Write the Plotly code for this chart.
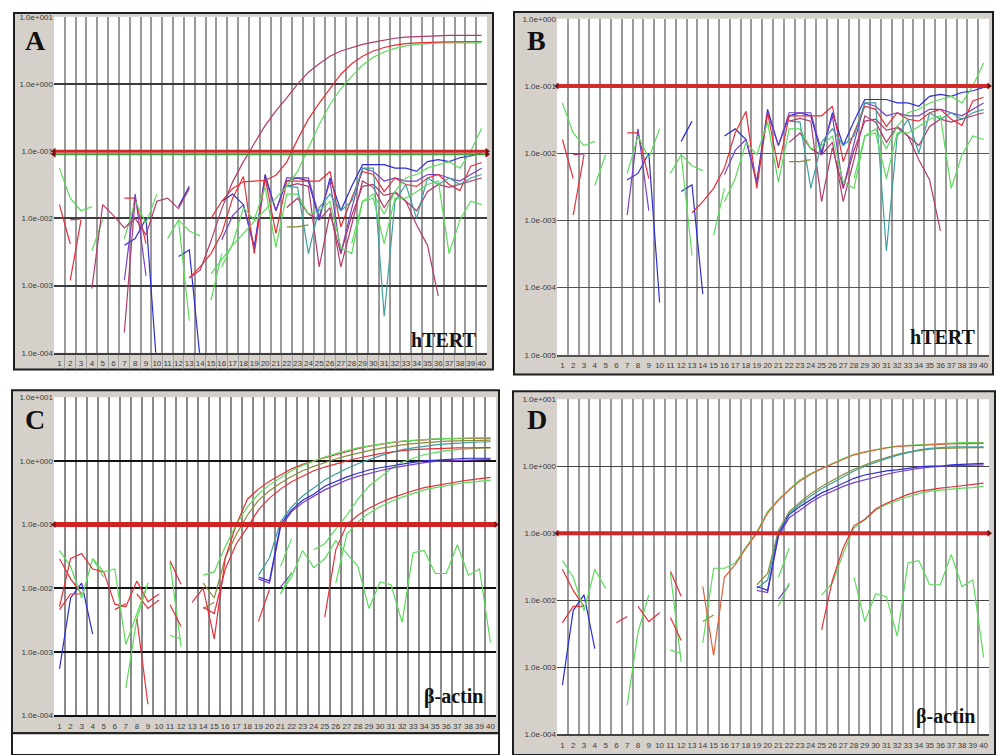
import plotly.graph_objects as go

# ---------------- data ----------------
cycles = list(range(1, 41))
cycle_labels = [str(c) for c in cycles]
grid_positions = [c + 0.5 for c in range(1, 40)]

ticks_A = [10, 1, 0.1, 0.01, 0.001, 0.0001]
ticktext_A = ["1.0e+001", "1.0e+000", "1.0e-001", "1.0e-002", "1.0e-003", "1.0e-004"]
ticks_B = [1, 0.1, 0.01, 0.001, 0.0001, 0.00001]
ticktext_B = ["1.0e+000", "1.0e-001", "1.0e-002", "1.0e-003", "1.0e-004", "1.0e-005"]

threshold_A = 0.1
threshold_A_green = 0.09
threshold_B = 0.1
threshold_C = 0.1
threshold_D = 0.1

# hTERT baseline noise (shared by A and B): (start cycle, values)
ht_blue1 = (16, [0.018, 0.023, 0.016, 0.0038, 0.045, 0.013, 0.036, 0.040, 0.036, 0.0095, 0.040, 0.013, 0.030,
                 0.063, 0.063, 0.063, 0.056, 0.056, 0.050, 0.070, 0.075, 0.070, 0.080, 0.085, 0.095])
ht_blue2 = (16, [0.0048, 0.011, 0.016, 0.0035, 0.040, 0.013, 0.040, 0.040, 0.040, 0.0105, 0.036, 0.003, 0.014,
                 0.056, 0.050, 0.036, 0.040, 0.036, 0.036, 0.045, 0.045, 0.040, 0.036, 0.045, 0.056])
ht_blue_f1 = (7, [0.004, 0.005, 0.010, 0.00006])
ht_blue_f2 = (12, [0.0027, 0.0034, 0.00008])
ht_blue_f3 = (12, [0.015, 0.030])
ht_red1 = (13, [0.0013, 0.0019, 0.003, 0.006, 0.020, 0.042, 0.003, 0.040, 0.006, 0.036, 0.036, 0.036, 0.036, 0.050,
                0.0075, 0.020, 0.050, 0.045, 0.025, 0.040, 0.032, 0.030, 0.040, 0.045, 0.032, 0.026, 0.060, 0.068])
ht_red2 = (22, [0.030, 0.033, 0.030, 0.0019, 0.012, 0.003, 0.011, 0.030, 0.032, 0.022, 0.024, 0.018, 0.008, 0.004, 0.0007])
ht_maroon = (22, [0.0145, 0.020, 0.0116, 0.0095, 0.0145, 0.0019, 0.008, 0.036, 0.029, 0.0145, 0.025, 0.018, 0.013,
                  0.025, 0.032, 0.029, 0.032, 0.036, 0.040])
ht_green1 = (16, [0.0019, 0.0042, 0.0145, 0.0095, 0.029, 0.0037, 0.023, 0.023, 0.0116, 0.013, 0.018, 0.0037, 0.003,
                  0.018, 0.023, 0.0116, 0.025, 0.040, 0.045, 0.056, 0.063, 0.070, 0.056, 0.10, 0.22])
ht_teal = (22, [0.030, 0.029, 0.003, 0.0145, 0.023, 0.013, 0.018, 0.056, 0.056, 0.00035, 0.018, 0.032, 0.010,
                0.040, 0.032, 0.040, 0.032, 0.040, 0.045])
ht_green2 = (28, [0.0042, 0.018, 0.020, 0.0042, 0.020, 0.020, 0.025, 0.032, 0.036, 0.003, 0.0095, 0.018, 0.016])
ht_olive = (22, [0.0075, 0.0075, 0.008])
ht_e_red1 = (1, [0.016, 0.0042])
ht_e_red2 = (2, [0.0012, 0.0095])
ht_e_maroon = (2, [0.0095, 0.0098])
ht_e_green1 = (1, [0.056, 0.020, 0.013, 0.015])
ht_e_green2 = (4, [0.0033, 0.0095])
ht_e_red3 = (7, [0.020, 0.020, 0.0042])
ht_e_purple = (7, [0.0012, 0.023, 0.0014])
ht_e_green3 = (7, [0.005, 0.018, 0.0085, 0.023])
ht_e_green4 = (11, [0.005, 0.0095, 0.0065, 0.0055])
ht_e_green5 = (12, [0.0095, 0.0003])
ht_e_green6 = (15, [0.0006, 0.003])

# hTERT panel A amplification and extra traces
A_amp1 = (13, [0.0013, 0.0017, 0.0046, 0.014, 0.035, 0.07, 0.13, 0.24, 0.40, 0.62, 1.0, 1.5, 2.0, 2.6, 3.1, 3.5,
               3.9, 4.2, 4.5, 4.8, 5.0, 5.1, 5.2, 5.3, 5.3, 5.3, 5.3, 5.3])
A_amp2 = (15, [0.010, 0.018, 0.028, 0.035, 0.036, 0.037, 0.044, 0.069, 0.15, 0.30, 0.52, 0.87, 1.4, 2.0, 2.6, 3.1,
               3.5, 3.8, 4.0, 4.1, 4.2, 4.2, 4.25, 4.25, 4.3, 4.3])
A_amp_green = (15, [0.0015, 0.0025, 0.004, 0.006, 0.009, 0.013, 0.02, 0.03, 0.05, 0.11, 0.25, 0.5, 0.85, 1.3, 1.9,
                    2.5, 3.0, 3.4, 3.7, 3.9, 4.0, 4.1, 4.1, 4.1, 4.1, 4.1])
A_maroon_early = (4, [0.0009, 0.016, 0.011, 0.0072, 0.010, 0.0057, 0.018, 0.020, 0.014, 0.028])
A_pink_frag = (7, [0.0002, 0.02])

# beta-actin baseline noise (shared by C and D)
ba_blue_e = (1, [0.00054, 0.007, 0.012, 0.0019])
ba_red_e1 = (1, [0.029, 0.014, 0.0081])
ba_red_e2 = (1, [0.0046, 0.0081, 0.0081])
ba_green_e1 = (1, [0.039, 0.022, 0.007, 0.029, 0.015])
ba_red_f6 = (6, [0.0046, 0.0057])
ba_green_f7 = (7, [0.00027, 0.0033, 0.012])
ba_red_f8 = (8, [0.0081, 0.0048, 0.0065])
ba_green_f11 = (11, [0.025, 0.0012])
ba_red_f11a = (11, [0.027, 0.0115])
ba_red_f11b = (11, [0.0055, 0.0025])
ba_green_f11b = (11, [0.0018, 0.0016])
ba_olive_f14 = (14, [0.0048, 0.006])
ba_purple_f21 = (21, [0.0104, 0.017])
ba_green_f21 = (21, [0.022, 0.06])
ba_green_f21b = (21, [0.0081, 0.018])
ba_green_late = (28, [0.022, 0.0048, 0.0125, 0.0113, 0.0029, 0.036, 0.039, 0.017, 0.017, 0.048, 0.016, 0.020, 0.0014])

# beta-actin panel C
C_red_e = (1, [0.0051, 0.029, 0.035, 0.02, 0.018, 0.0056, 0.0051, 0.013, 0.0061, 0.0081])
C_red_dive = (8, [0.0033, 0.00015])
C_green_e = (4, [0.029, 0.018, 0.02, 0.0013, 0.004, 0.012])
C_green_mid = (21, [0.0083, 0.015, 0.039, 0.021, 0.029, 0.056, 0.035, 0.022])
C_red_f19 = (19, [0.003, 0.0095])
C_up1 = (14, [0.016, 0.018, 0.045, 0.10, 0.19, 0.30, 0.42, 0.55, 0.70, 0.85, 1.0, 1.15, 1.3, 1.45, 1.6, 1.72, 1.85,
              1.95, 2.05, 2.12, 2.18, 2.22, 2.25, 2.28, 2.3, 2.3, 2.3])
C_up2 = (13, [0.006, 0.010, 0.0016, 0.03, 0.10, 0.25, 0.36, 0.48, 0.60, 0.75, 0.88, 1.0, 1.12, 1.25, 1.4, 1.55, 1.7,
              1.82, 1.93, 2.03, 2.1, 2.17, 2.2, 2.23, 2.25, 2.25, 2.27, 2.28])
C_up3 = (14, [0.005, 0.004, 0.02, 0.05, 0.09, 0.17, 0.26, 0.36, 0.47, 0.58, 0.7, 0.8, 0.9, 1.0, 1.1, 1.2, 1.3, 1.38,
              1.45, 1.5, 1.53, 1.56, 1.58, 1.6, 1.6, 1.6, 1.62])
C_up4 = (14, [0.012, 0.007, 0.03, 0.07, 0.14, 0.24, 0.34, 0.45, 0.57, 0.7, 0.82, 0.95, 1.07, 1.2, 1.33, 1.45, 1.57,
              1.68, 1.78, 1.87, 1.94, 2.0, 2.04, 2.07, 2.1, 2.1, 2.12])
C_blue1 = (19, [0.015, 0.013, 0.10, 0.17, 0.24, 0.30, 0.40, 0.48, 0.56, 0.64, 0.72, 0.78, 0.84, 0.90, 0.95, 1.0,
                1.03, 1.05, 1.07, 1.1, 1.1, 1.1])
C_blue2 = (19, [0.014, 0.012, 0.09, 0.16, 0.22, 0.28, 0.35, 0.42, 0.50, 0.57, 0.64, 0.70, 0.77, 0.83, 0.89, 0.94,
                0.98, 1.0, 1.02, 1.04, 1.06, 1.06])
C_teal = (19, [0.016, 0.03, 0.11, 0.19, 0.28, 0.38, 0.50, 0.62, 0.76, 0.90, 1.05, 1.2, 1.35, 1.5, 1.6, 1.7, 1.78,
               1.85, 1.9, 1.95, 1.98, 2.0])
C_late_red = (25, [0.0035, 0.04, 0.10, 0.14, 0.18, 0.22, 0.26, 0.30, 0.34, 0.38, 0.41, 0.44, 0.47, 0.50, 0.53, 0.55])
C_late_green = (26, [0.012, 0.07, 0.11, 0.15, 0.19, 0.23, 0.27, 0.31, 0.35, 0.38, 0.41, 0.44, 0.46, 0.48, 0.50])
C_late_lightgreen = (24, [0.04, 0.05, 0.085, 0.14, 0.25, 0.40, 0.55, 0.75, 0.95, 1.1, 1.25, 1.35, 1.45, 1.5, 1.55,
                          1.58, 1.6])

# beta-actin panel D
D_green_e = (14, [0.0023, 0.03, 0.03, 0.036, 0.062, 0.105, 0.21, 0.32, 0.45, 0.63, 0.78, 0.93, 1.1, 1.3, 1.5, 1.64,
                  1.77, 1.9, 2.0, 2.05, 2.1, 2.15, 2.2, 2.22, 2.25, 2.25, 2.25])
D_red_e = (14, [0.016, 0.0015, 0.022, 0.034, 0.06, 0.10, 0.20, 0.31, 0.44, 0.60, 0.76, 0.92, 1.08, 1.28, 1.48, 1.62,
                1.75, 1.87, 1.97, 2.02, 2.07, 2.1, 2.12, 2.15, 2.17, 2.2, 2.2])
D_blue1 = (19, [0.016, 0.014, 0.095, 0.19, 0.25, 0.32, 0.40, 0.47, 0.56, 0.66, 0.74, 0.80, 0.85, 0.88, 0.93, 0.98,
                1.0, 1.0, 1.05, 1.07, 1.1, 1.1])
D_blue2 = (19, [0.014, 0.013, 0.09, 0.17, 0.22, 0.29, 0.36, 0.43, 0.50, 0.57, 0.63, 0.70, 0.76, 0.82, 0.88, 0.93,
                0.97, 1.0, 1.02, 1.03, 1.05, 1.05])
D_teal = (19, [0.015, 0.02, 0.10, 0.20, 0.27, 0.36, 0.46, 0.57, 0.70, 0.85, 1.0, 1.15, 1.3, 1.45, 1.6, 1.75, 1.85,
               1.9, 1.95, 1.95, 1.95, 1.95])
D_olive = (19, [0.017, 0.025, 0.11, 0.21, 0.29, 0.39, 0.5, 0.62, 0.75, 0.9, 1.05, 1.2, 1.35, 1.5, 1.62, 1.72, 1.8,
                1.85, 1.88, 1.9, 1.9, 1.9])
D_late_red = (25, [0.0036, 0.02, 0.06, 0.13, 0.16, 0.23, 0.28, 0.33, 0.38, 0.42, 0.45, 0.47, 0.49, 0.51, 0.53, 0.56])
D_late_green = (25, [0.012, 0.018, 0.05, 0.12, 0.16, 0.22, 0.27, 0.31, 0.35, 0.39, 0.42, 0.44, 0.46, 0.47, 0.48, 0.50])

# ---------------- styles ----------------
RED = "#e5303a"
GREEN = "#5bdc5b"
BLUE = "#2d2dd2"
PURPLE = "#7a40c4"
MAROON = "#b23a6c"
TEAL = "#3f9f9f"
OLIVE = "#8c8c3a"
FRAME = "#d5d1ca"

ht_shared = [(ht_blue1, BLUE), (ht_blue2, PURPLE), (ht_blue_f1, BLUE), (ht_blue_f2, BLUE), (ht_blue_f3, BLUE),
             (ht_red1, RED), (ht_red2, MAROON), (ht_maroon, MAROON), (ht_green1, GREEN), (ht_teal, TEAL),
             (ht_green2, GREEN), (ht_olive, OLIVE), (ht_e_red1, RED), (ht_e_red2, RED), (ht_e_maroon, MAROON),
             (ht_e_green1, GREEN), (ht_e_green2, GREEN), (ht_e_red3, RED), (ht_e_purple, PURPLE),
             (ht_e_green3, GREEN), (ht_e_green4, GREEN), (ht_e_green5, GREEN), (ht_e_green6, GREEN)]
A_only = [(A_maroon_early, MAROON), (A_pink_frag, MAROON), (A_amp_green, GREEN), (A_amp2, RED), (A_amp1, MAROON)]
ba_shared = [(ba_blue_e, BLUE), (ba_red_e1, RED), (ba_red_e2, RED), (ba_green_e1, GREEN), (ba_red_f6, RED),
             (ba_green_f7, GREEN), (ba_red_f8, RED), (ba_green_f11, GREEN), (ba_red_f11a, RED), (ba_red_f11b, RED),
             (ba_green_f11b, GREEN), (ba_olive_f14, OLIVE), (ba_purple_f21, PURPLE), (ba_green_f21, GREEN),
             (ba_green_f21b, GREEN), (ba_green_late, GREEN)]
C_only = [(C_red_e, RED), (C_red_dive, RED), (C_green_e, GREEN), (C_green_mid, GREEN), (C_red_f19, RED),
          (C_late_lightgreen, GREEN), (C_late_green, GREEN), (C_late_red, RED),
          (C_teal, TEAL), (C_blue2, PURPLE), (C_blue1, BLUE),
          (C_up3, RED), (C_up4, OLIVE), (C_up2, RED), (C_up1, GREEN)]
D_only = [(D_late_green, GREEN), (D_late_red, RED), (D_olive, OLIVE), (D_teal, TEAL), (D_blue2, PURPLE),
          (D_blue1, BLUE), (D_green_e, GREEN), (D_red_e, "#e0603a")]

fig = go.Figure()


def add_series(series, color, ax, width=1.2):
    start, vals = series
    xs = cycles[start - 1:start - 1 + len(vals)]
    fig.add_trace(go.Scatter(x=xs, y=vals, mode="lines", line=dict(color=color, width=width),
                             xaxis="x" + ax, yaxis="y" + ax, hoverinfo="skip", showlegend=False))


def add_threshold(value, color, width, ax):
    xs = [cycles[0] - 0.5, cycles[-1] + 0.5]
    fig.add_trace(go.Scatter(x=xs, y=[value, value], mode="lines+markers", line=dict(color=color, width=width),
                             marker=dict(symbol=["triangle-left", "triangle-right"], size=6, color="#7a1010"),
                             cliponaxis=False, xaxis="x" + ax, yaxis="y" + ax, hoverinfo="skip",
                             showlegend=False))


for s, c in ht_shared + A_only:
    add_series(s, c, "")
add_threshold(threshold_A_green, "#3aa03a", 2, "")
add_threshold(threshold_A, "#cc2a2a", 3, "")

for s, c in ht_shared:
    add_series(s, c, "2")
add_threshold(threshold_B, "#d42a2a", 4, "2")

for s, c in ba_shared + C_only:
    add_series(s, c, "3")
add_threshold(threshold_C, "#d02424", 5, "3")

for s, c in ba_shared + D_only:
    add_series(s, c, "4")
add_threshold(threshold_D, "#d02828", 4, "4")

W, H = 1003, 755


def px(x):
    return x / W


def py(y):
    return 1 - y / H


# panel geometry in pixels: (plot x0, x1, y_top, y_bottom)
geo = {
    "": (54, 487, 13, 353),
    "2": (557, 989, 15, 355),
    "3": (54, 496, 398, 720),
    "4": (557, 989, 400, 739),
}
frames = {
    "": (14, 493, 9, 370),
    "2": (514, 993, 8, 375),
    "3": (12, 499, 391, 738),
    "4": (513, 995, 392, 760),
}
vgrid = {"": ("#9a9a9a", 1.5), "2": ("#9a9a9a", 1.5), "3": ("#8a8a8a", 2), "4": ("#9a9a9a", 1.5)}
hgrid = {"": ("#3c3c3c", 1.5), "2": ("#555555", 1), "3": ("#111111", 2), "4": ("#444444", 1)}
yranges = {"": [-4, 1], "2": [-5, 0], "3": [-4, 1], "4": [-4, 1]}
yticks = {"": (ticks_A, ticktext_A), "2": (ticks_B, ticktext_B), "3": (ticks_A, ticktext_A),
          "4": (ticks_A, ticktext_A)}

shapes = []
for ax in ["", "2", "3", "4"]:
    fx0, fx1, fy0, fy1 = frames[ax]
    shapes.append(dict(type="rect", xref="paper", yref="paper", x0=px(fx0), x1=px(fx1), y0=py(fy1), y1=py(fy0),
                       fillcolor=FRAME, line=dict(color="#1e1e1e", width=2), layer="below"))
    x0, x1, yt, yb = geo[ax]
    shapes.append(dict(type="rect", xref="paper", yref="paper", x0=px(x0), x1=px(x1), y0=py(yb), y1=py(yt),
                       fillcolor="white", line=dict(width=0), layer="below"))
# white strip below panel C's grey area and its border
shapes.append(dict(type="rect", xref="paper", yref="paper", x0=px(12), x1=px(499), y0=py(760), y1=py(738),
                   fillcolor="white", line=dict(color="#1e1e1e", width=2), layer="below"))

layout = dict(width=W, height=H, margin=dict(l=0, r=0, t=0, b=0), paper_bgcolor="white",
              plot_bgcolor="rgba(0,0,0,0)", shapes=shapes, showlegend=False)

for ax in ["", "2", "3", "4"]:
    x0, x1, yt, yb = geo[ax]
    vcol, vw = vgrid[ax]
    hcol, hw = hgrid[ax]
    tv, tt = yticks[ax]
    xa = dict(domain=[px(x0), px(x1)], range=[0.5, 40.5], anchor="y" + ax, tickmode="array",
              tickvals=cycles, ticktext=cycle_labels, showgrid=False, zeroline=False, ticks="",
              tickangle=0, ticklabelstandoff=2,
              tickfont=dict(family="Liberation Sans Narrow, Arial Narrow, sans-serif", size=8, color="#3a3a3a"),
              showline=True, linecolor=hcol, linewidth=max(hw, 1.5), fixedrange=True,
              minor=dict(tickvals=grid_positions, showgrid=True, gridcolor=vcol, gridwidth=vw,
                         ticks="outside" if ax == "" else "", ticklen=14, tickcolor="#a0a0a0", tickwidth=1))
    ya = dict(domain=[py(yb), py(yt)], type="log", range=yranges[ax], anchor="x" + ax, tickmode="array",
              tickvals=tv, ticktext=tt, showgrid=True, gridcolor=hcol, gridwidth=hw, zeroline=False,
              ticks="", tickfont=dict(family="Liberation Sans Narrow, Arial Narrow, sans-serif", size=8,
                                      color="#3a3a3a"), fixedrange=True)
    layout["xaxis" + ax] = xa
    layout["yaxis" + ax] = ya

serif = "Liberation Serif, Times New Roman, serif"
annotations = [
    dict(text="<b>A</b>", x=px(35), y=py(37), font=dict(family=serif, size=28, color="#111")),
    dict(text="<b>B</b>", x=px(536), y=py(37), font=dict(family=serif, size=28, color="#111")),
    dict(text="<b>C</b>", x=px(35), y=py(421), font=dict(family=serif, size=28, color="#111")),
    dict(text="<b>D</b>", x=px(537), y=py(421), font=dict(family=serif, size=28, color="#111")),
    dict(text="<b>hTERT</b>", x=px(444), y=py(340), font=dict(family=serif, size=20, color="#111")),
    dict(text="<b>hTERT</b>", x=px(943), y=py(337), font=dict(family=serif, size=20, color="#111")),
    dict(text="<b>β-actin</b>", x=px(453), y=py(701), font=dict(family=serif, size=20, color="#111")),
    dict(text="<b>β-actin</b>", x=px(945), y=py(721), font=dict(family=serif, size=20, color="#111")),
]
for a in annotations:
    a.update(xref="paper", yref="paper", showarrow=False, xanchor="center", yanchor="middle")
layout["annotations"] = annotations

fig.update_layout(**layout)
fig.write_html("out.html", config={"displayModeBar": False},
               post_script="document.body.style.margin='0px';")
